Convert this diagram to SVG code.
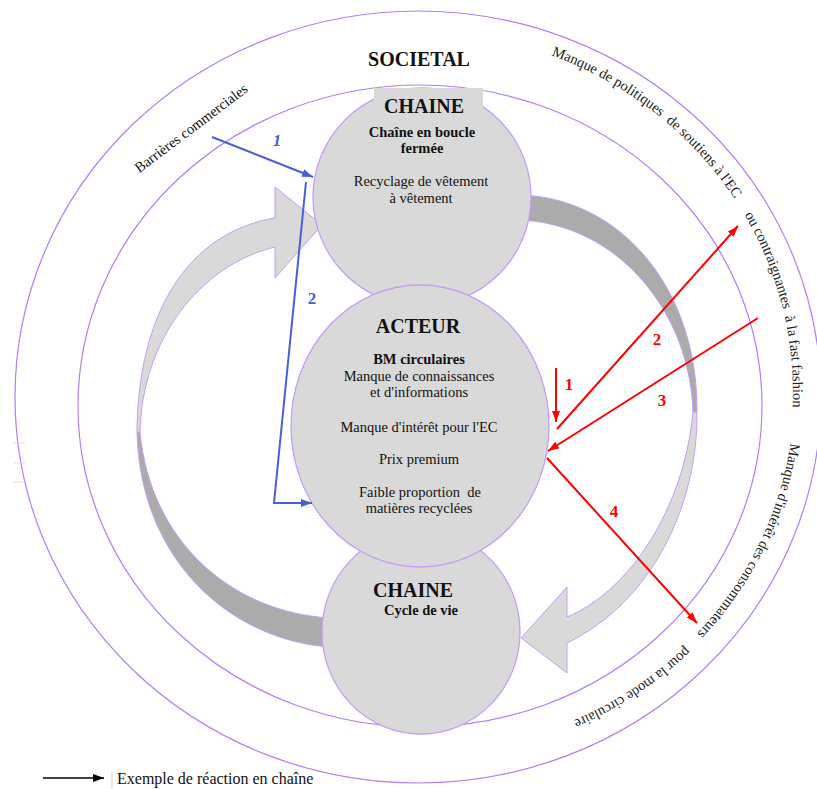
<svg xmlns="http://www.w3.org/2000/svg" width="817" height="789" viewBox="0 0 817 789">
<style>
.ring{fill:none;stroke:#b27ef2;stroke-width:1.2}
.node{fill:#d9d9d9;stroke:#c59df5;stroke-width:1.3}
.light{fill:#d9d9d9;stroke:#c59df5;stroke-width:1}
.dark{fill:#ababab;stroke:#c59df5;stroke-width:1}
.t{font-family:"Liberation Serif","Times New Roman",serif;fill:#111;text-anchor:middle}
.title{font-weight:bold;font-size:20px}
.sub{font-weight:bold;font-size:14.5px}
.body{font-size:14.5px}
.rt{font-family:"Liberation Serif","Times New Roman",serif;fill:#222;font-size:14.5px}
.blue{stroke:#4a5fd4;stroke-width:2;fill:none}
.red{stroke:#ff0000;stroke-width:2;fill:none}
.bl{font-family:"Liberation Serif","Times New Roman",serif;font-weight:bold;font-size:17px;fill:#4a5fd4;text-anchor:middle}
.rl{font-family:"Liberation Serif","Times New Roman",serif;font-weight:bold;font-size:17px;fill:#ff0000;text-anchor:middle}
</style>
<defs>
<marker id="mRed" markerUnits="userSpaceOnUse" markerWidth="12" markerHeight="9" refX="11" refY="4" orient="auto"><path d="M0,0 L11,4 L0,8 Z" fill="#ff0000"/></marker>
<marker id="mBlue" markerUnits="userSpaceOnUse" markerWidth="12" markerHeight="9" refX="11" refY="4" orient="auto"><path d="M0,0 L11,4 L0,8 Z" fill="#4a5fd4"/></marker>
<marker id="mBlack" markerUnits="userSpaceOnUse" markerWidth="12" markerHeight="9" refX="11" refY="4" orient="auto"><path d="M0,0 L11,4 L0,8 Z" fill="#000"/></marker>
<path id="p1" d="M551.2,55.3 A374,360 0 0 1 770.4,268.9"/>
<path id="p2" d="M744.5,214.7 A374,360 0 0 1 770.4,515.1"/>
<path id="p3" d="M790.5,443 A376,360 0 0 1 606,703.8"/>
<path id="p4" d="M685.5,646.6 A376,360 0 0 1 354.1,746.5"/>
</defs>
<rect width="817" height="789" fill="#fff"/>

<g id="rings">
<ellipse class="ring" cx="418" cy="397" rx="403" ry="386"/>
<ellipse class="ring" cx="420" cy="406" rx="342" ry="321"/>
<g stroke="#dddddd" stroke-width="1"><line x1="13" y1="443" x2="25" y2="443"/><line x1="13" y1="463" x2="25" y2="463"/><line x1="13" y1="482" x2="25" y2="482"/></g>
</g>

<g id="cycle-arrows">
<path class="dark" d="M520,195 C622,198 698,290 697,412 L693,412 C690,312 618,224 520,220 Z"/>
<path class="light" d="M697,412 C698,505 652,602 567,643 L567,673 L521,638 L567,587 L567,617 C628,592 684,510 693,412 Z"/>
<path class="dark" d="M137,432 C140,560 230,640 330,647 L330,618 C230,612 150,540 140,432 Z"/>
<path class="light" d="M322,225 L275,187 L275,218 C190,232 138,310 137,432 L140,432 C142,340 200,265 275,247 L275,278 Z"/>
</g>

<g id="chaine-boucle">
<circle class="node" cx="422" cy="197" r="109"/>
<rect x="374" y="88" width="109" height="22" fill="#d9d9d9"/>
<text class="t title" x="424" y="113">CHAINE</text>
<text class="t sub" x="422" y="137">Chaîne en boucle</text>
<text class="t sub" x="422" y="153">fermée</text>
<text class="t body" x="421" y="186">Recyclage de vêtement</text>
<text class="t body" x="421" y="203">à vêtement</text>
</g>

<g id="chaine-cycle">
<ellipse class="node" cx="421" cy="632" rx="99" ry="102"/>
<text class="t title" x="413" y="597">CHAINE</text>
<text class="t sub" x="421" y="615">Cycle de vie</text>
</g>

<g id="acteur">
<ellipse class="node" cx="420" cy="426" rx="129" ry="141"/>
<text class="t title" x="418" y="333">ACTEUR</text>
<text class="t sub" x="419" y="364">BM circulaires</text>
<text class="t body" x="419" y="381">Manque de connaissances</text>
<text class="t body" x="419" y="397">et d'informations</text>
<text class="t body" x="419" y="432">Manque d'intérêt pour l'EC</text>
<text class="t body" x="419" y="464">Prix premium</text>
<text class="t body" x="420" y="497" xml:space="preserve">Faible proportion  de</text>
<text class="t body" x="419" y="513">matières recyclées</text>
</g>

<g id="societal">
<text class="t title" x="419" y="66">SOCIETAL</text>
<text class="t body" transform="translate(194,132) rotate(-37)">Barrières commerciales</text>
<text class="rt" xml:space="preserve"><textPath href="#p1">Manque de politiques  de soutiens à l'EC</textPath></text>
<text class="rt" xml:space="preserve"><textPath href="#p2">ou contraignantes  à la fast fashion</textPath></text>
<text class="rt"><textPath href="#p3">Manque d'intérêt des consommateurs</textPath></text>
<text class="rt"><textPath href="#p4">pour la mode circulaire</textPath></text>
</g>

<g id="connectors">
<line class="blue" x1="212" y1="137" x2="313" y2="177" marker-end="url(#mBlue)"/>
<polyline class="blue" points="306,182 274,503 312,503" marker-end="url(#mBlue)"/>
<text class="bl" x="277" y="146" font-style="italic">1</text>
<text class="bl" x="312" y="304">2</text>
<line class="red" x1="556" y1="368" x2="556" y2="422" marker-end="url(#mRed)"/>
<line class="red" x1="557" y1="429" x2="738" y2="226" marker-end="url(#mRed)"/>
<line class="red" x1="758" y1="318" x2="548" y2="451" marker-end="url(#mRed)"/>
<line class="red" x1="547" y1="458" x2="697" y2="623" marker-end="url(#mRed)"/>
<text class="rl" x="569" y="390">1</text>
<text class="rl" x="657" y="345">2</text>
<text class="rl" x="662" y="406">3</text>
<text class="rl" x="614" y="517">4</text>
</g>

<g id="legend">
<line x1="43" y1="778" x2="104" y2="778" stroke="#000" stroke-width="1.3" marker-end="url(#mBlack)"/>
<line x1="112" y1="772" x2="112" y2="788" stroke="#d0d0d0" stroke-width="1"/>
<text x="117" y="784" font-family="'Liberation Serif','Times New Roman',serif" font-size="16" fill="#111">Exemple de réaction en chaîne</text>
</g>
</svg>
